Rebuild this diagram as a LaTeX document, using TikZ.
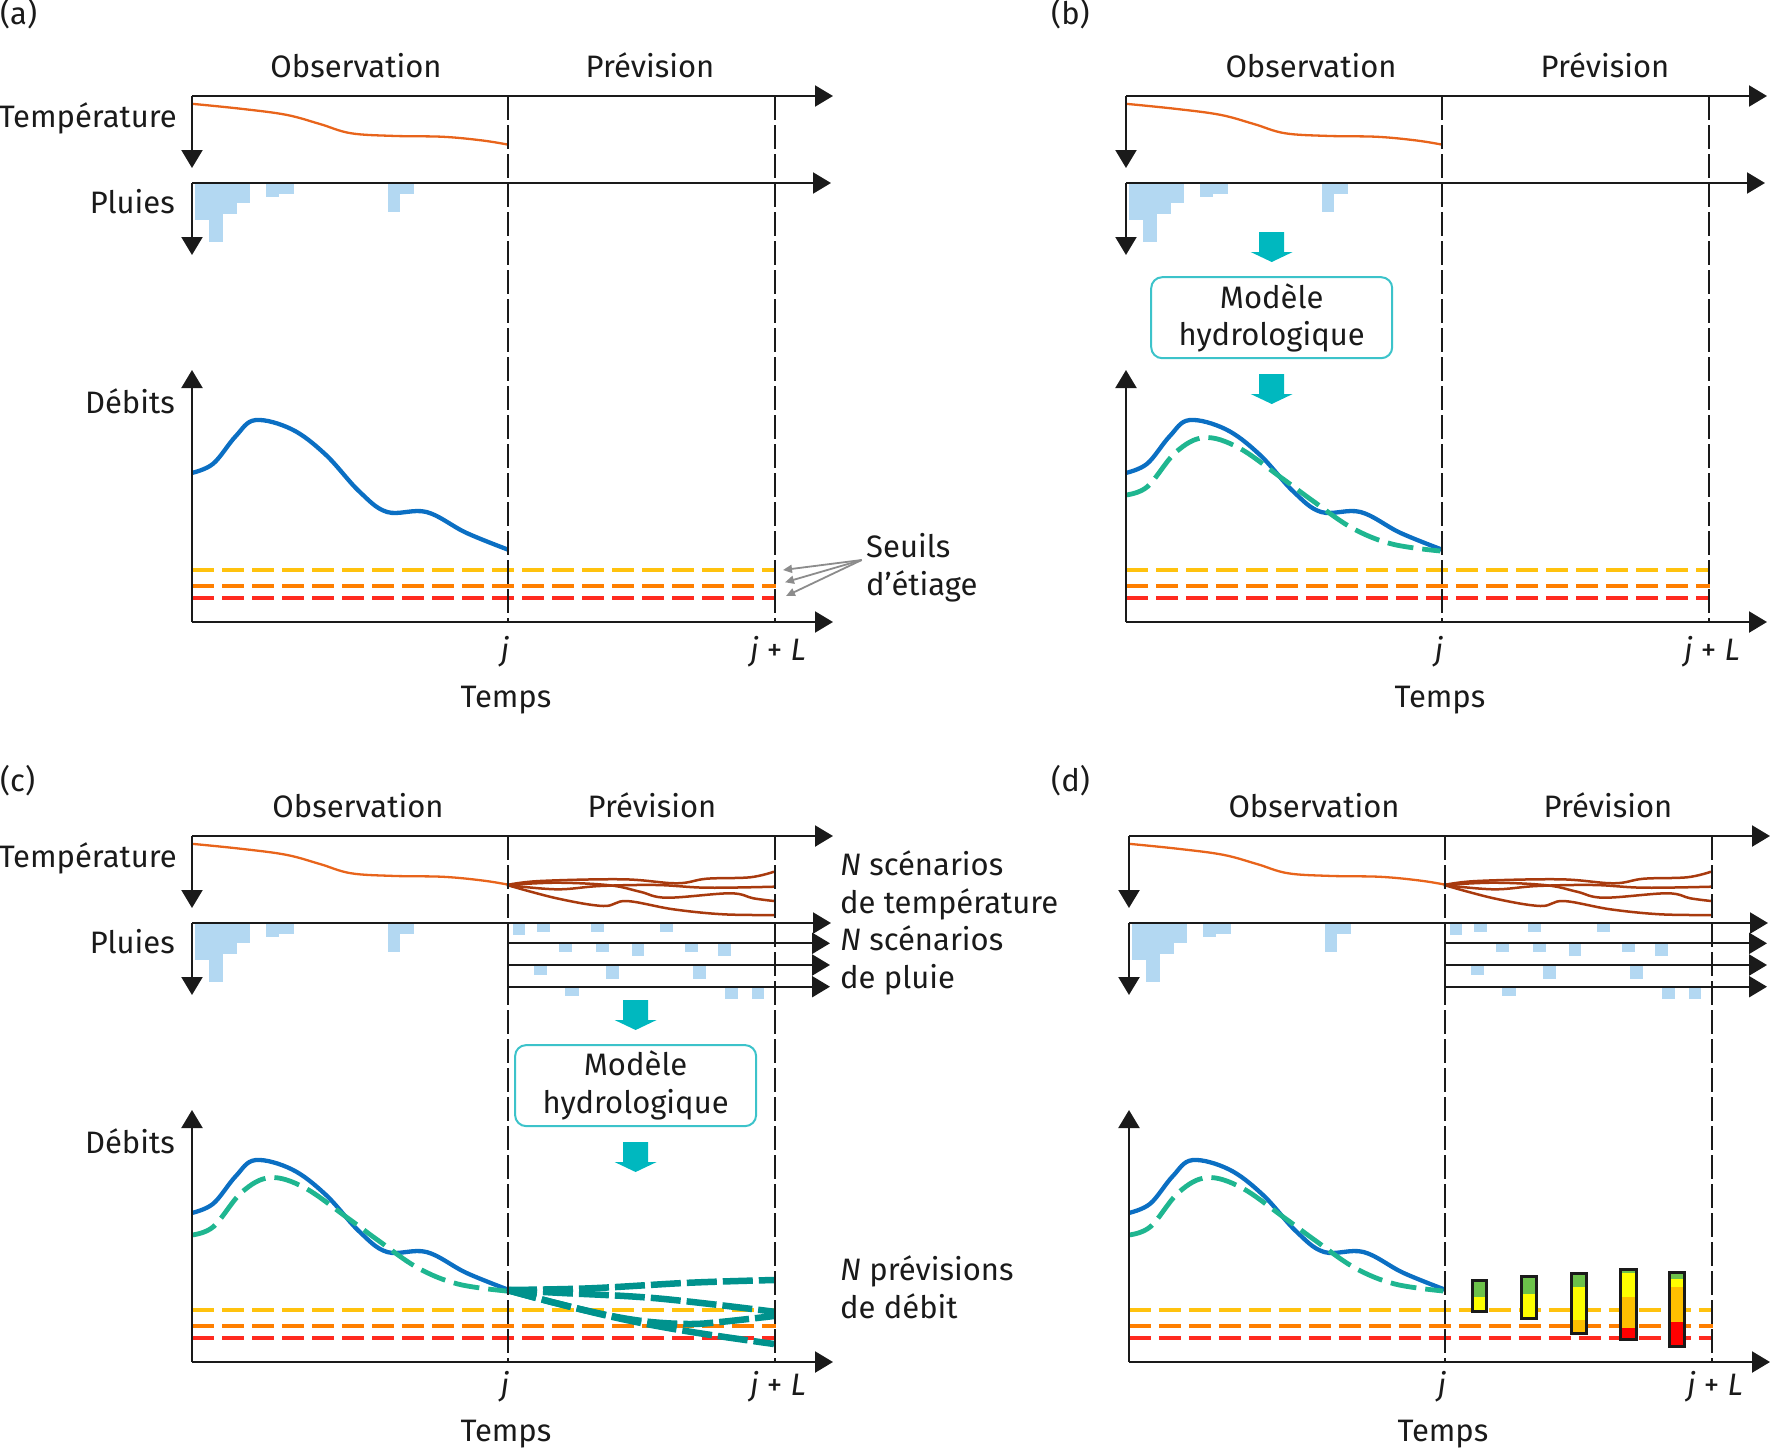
\documentclass[tikz,border=0pt]{standalone}
\usepackage{fontspec}
\setmainfont{Fira Sans}
\usetikzlibrary{arrows.meta,calc}
\definecolor{tempc}{HTML}{E8641B}
\definecolor{scenc}{HTML}{A83A0E}
\definecolor{rainc}{HTML}{B3D8F2}
\definecolor{bluec}{HTML}{0B6FC3}
\definecolor{greenc}{HTML}{1FB690}
\definecolor{tealc}{HTML}{00928D}
\definecolor{thrY}{HTML}{FFC20E}
\definecolor{thrO}{HTML}{FF7F00}
\definecolor{thrR}{HTML}{FF2A1F}
\definecolor{cyanA}{HTML}{00B8BF}
\definecolor{boxc}{HTML}{3CC3CA}
\definecolor{grayA}{HTML}{8C8C8C}
\definecolor{barG}{HTML}{6CC24A}
\definecolor{barY}{HTML}{FFFF00}
\definecolor{barA}{HTML}{FFC000}
\definecolor{barR}{HTML}{FF0000}
\definecolor{inkc}{HTML}{1A1A1A}
\tikzset{
  lbl/.style={font=\fontsize{31}{38}\selectfont, inner sep=0pt, text=inkc},
  axisarr/.style={line width=2.2pt, draw=inkc, -{Triangle[length=18pt,width=21pt]}},
  axisplain/.style={line width=2.2pt, draw=inkc},
  jline/.style={line width=2pt, draw=inkc, dash pattern=on 24pt off 5pt},
  thrline/.style={line width=4.6pt, dash pattern=on 22pt off 8pt},
  tempobs/.style={draw=tempc, line width=2.3pt},
  tempscen/.style={draw=scenc, line width=2.5pt},
  obsflow/.style={draw=bluec, line width=4.3pt},
  simflow/.style={draw=greenc, line width=4.8pt, dash pattern=on 26pt off 9pt},
  fcflow/.style={draw=tealc, line width=6.5pt, dash pattern=on 30pt off 6pt},
  modelbox/.style={draw=boxc, line width=2pt, rounded corners=11pt, minimum width=241pt,
    minimum height=81pt, align=center, font=\fontsize{31}{37.5}\selectfont, text=inkc, inner sep=0pt},
  grayarr/.style={draw=grayA, line width=1.8pt, -{Triangle[length=9pt,width=8pt]}},
  barbox/.style={draw=inkc, line width=3pt},
}
% ---------- common parts (panel-local coordinates) ----------
\newcommand\pnlRain{%
  \fill[rainc] (195,183) rectangle (209.3,220);
  \fill[rainc] (209.3,183) rectangle (223.3,241.7);
  \fill[rainc] (223.3,183) rectangle (237.3,214.3);
  \fill[rainc] (237.3,183) rectangle (250,202.7);
  \fill[rainc] (266,183) rectangle (279,196.7);
  \fill[rainc] (279,183) rectangle (294,194);
  \fill[rainc] (387.7,183) rectangle (400,211.7);
  \fill[rainc] (400,183) rectangle (414.3,194);
}
\newcommand\pnlThr{%
  \draw[thrline, draw=thrY] (192,570) -- (776,570);
  \draw[thrline, draw=thrO] (192,586) -- (776,586);
  \draw[thrline, draw=thrR] (192,598) -- (776,598);
}
\newcommand\pnlTemp{%
  \draw[tempobs] plot[smooth, tension=0.6] coordinates {(192,103.8) (241.3,108.8) (286.2,114.8) (319.9,124) (350.7,133.2) (392.8,135.9) (443.3,136.8) (482.6,140.5) (507.9,144.6)};
}
\newcommand\pnlBlue{%
  \draw[obsflow] plot[smooth, tension=0.6] coordinates {(192,472.9) (213.2,463.7) (235.7,436.2) (255.3,420.1) (291.8,429.3) (325.5,454.5) (359.1,491.3) (387.2,512) (426.5,512) (465.8,532.6) (507.9,549.6)};
}
\newcommand\pnlGreen{%
  \draw[simflow] plot[smooth, tension=0.6] coordinates {(191.7,495) (213.4,486.7) (241.8,452.2) (270.2,437.6) (304.4,447.6) (347,477.5) (378.3,500.5) (418.1,528) (457.9,544) (506.3,551)};
}
\newcommand\pnlScen{%
  \draw[tempscen] plot[smooth, tension=0.6] coordinates {(507,145) (540,141) (623.3,139.3) (676.7,143.3) (706.7,138.7) (750,137.3) (774,131.7)};
  \draw[tempscen] plot[smooth, tension=0.6] coordinates {(507,145) (556.7,149.3) (600,146) (656.7,145) (706.7,147.7) (774,146.7)};
  \draw[tempscen] plot[smooth, tension=0.6] coordinates {(507,145) (556.7,142.7) (610,145.3) (640,151.7) (666.7,157.7) (730,153.3) (753.3,158.3) (774,161)};
  \draw[tempscen] plot[smooth, tension=0.6] coordinates {(507,145) (556.7,158.3) (603.3,166) (626.7,161) (673.3,169.3) (723.3,174.3) (774,175)};
}
\newcommand\pnlRainFc{%
  \fill[rainc] (512.7,184) rectangle (525,195);
  \fill[rainc] (537.3,184) rectangle (550.3,191.7);
  \fill[rainc] (591,184) rectangle (604.3,191.7);
  \fill[rainc] (660,184) rectangle (673.3,191.7);
  \fill[rainc] (559,204) rectangle (572.3,212.3);
  \fill[rainc] (596,204) rectangle (609.3,212.3);
  \fill[rainc] (631.7,204) rectangle (644,216);
  \fill[rainc] (685,204) rectangle (698.3,212.3);
  \fill[rainc] (717.7,204) rectangle (730.7,216);
  \fill[rainc] (533.7,226) rectangle (547.3,235.3);
  \fill[rainc] (606,226) rectangle (618.7,239);
  \fill[rainc] (692.7,226) rectangle (705.7,239);
  \fill[rainc] (565,247.5) rectangle (579,256);
  \fill[rainc] (725,247.5) rectangle (738,259.4);
  \fill[rainc] (752,247.5) rectangle (764,259.4);
  \coordinate (r2) at (508,203.3);
  \coordinate (r2e) at (830,203.3);
  \coordinate (r3) at (508,225);
  \coordinate (r3e) at (830,225);
  \coordinate (r4) at (508,246.7);
  \coordinate (r4e) at (830,246.7);
  \draw[axisarr] (r2) -- (r2e);
  \draw[axisarr] (r3) -- (r3e);
  \draw[axisarr] (r4) -- (r4e);
  \draw[axisplain] (r2) -- (r4);
}
% #1 obs x, #2 prev x, #3 j-label baseline, #4 Temps baseline
\newcommand\pnlAxes[4]{%
  \coordinate (tO) at (192,96);
  \coordinate (tE) at (833,96);
  \coordinate (tS) at (192,168);
  \coordinate (pO) at (192,183);
  \coordinate (pE) at (831,183);
  \coordinate (pS) at (192,255);
  \coordinate (qO) at (192,622);
  \coordinate (qE) at (833,622);
  \coordinate (qN) at (192,370);
  \coordinate (jT) at (508,96);
  \coordinate (jB) at (508,622);
  \coordinate (LT) at (775,96);
  \coordinate (LB) at (775,622);
  \draw[jline] (jT) -- (jB);
  \draw[jline] (LT) -- (LB);
  \draw[axisarr] (tO) -- (tE);
  \draw[axisarr] (tO) -- (tS);
  \draw[axisarr] (pO) -- (pE);
  \draw[axisarr] (pO) -- (pS);
  \draw[axisarr] (qO) -- (qE);
  \draw[axisarr] (qO) -- (qN);
  \node[lbl, anchor=base] (obs) at (#1,77) {Observation};
  \node[lbl, anchor=base] (prev) at (#2,77) {Prévision};
  \node[lbl, anchor=base] (jlab) at (505,#3) {\textit{j}};
  \node[lbl, anchor=base] (jLlab) at (778,#3) {\textit{j} + \textit{L}};
  \node[lbl, anchor=base] (temps) at (506,#4) {Temps};
}
\newcommand\pnlSideLabels{%
  \node[lbl, anchor=base east] (tlab) at (177,127) {Température};
  \node[lbl, anchor=base east] (plab) at (175,213.5) {Pluies};
  \node[lbl, anchor=base east] (dlab) at (175,413) {Débits};
}
\newcommand\blockarrow[2]{%
  \fill[cyanA] (#1-12.5,#2) -- (#1+12.5,#2) -- (#1+12.5,#2+20) -- (#1+21,#2+20) -- (#1,#2+30)
    -- (#1-21,#2+20) -- (#1-12.5,#2+20) -- cycle;
}
\begin{document}
\begin{tikzpicture}[x=1pt,y=-1pt]
\useasboundingbox (0,0) rectangle (1772,1451);
% ================= (a) =================
\begin{scope}[name prefix=a-]
  \node[lbl, anchor=base west] (letter) at (0,24) {(a)};
  \pnlRain
  \pnlThr
  \pnlTemp
  \pnlBlue
  \pnlAxes{356}{650}{660}{707}
  \pnlSideLabels
  \node[lbl, anchor=base west, align=left] (seuils) at (866,595) {Seuils\\d’étiage};
  \coordinate (sg) at (861.7,560);
  \coordinate (thY) at (783,570);
  \coordinate (thO) at (785,582.3);
  \coordinate (thR) at (786,596);
  \draw[grayarr] (sg) -- (thY);
  \draw[grayarr] (sg) -- (thO);
  \draw[grayarr] (sg) -- (thR);
\end{scope}
% ================= (b) =================
\begin{scope}[shift={(934,0)}, name prefix=b-]
  \node[lbl, anchor=base west] (letter) at (117,24) {(b)};
  \pnlRain
  \pnlThr
  \pnlTemp
  \pnlBlue
  \pnlGreen
  \pnlAxes{377}{671}{660}{707}
  \node[modelbox] (box) at (337.7,317.7) {Modèle\\hydrologique};
  \blockarrow{337.7}{232}
  \blockarrow{337.7}{374}
\end{scope}
% ================= (c) =================
\begin{scope}[shift={(0,740)}, name prefix=c-]
  \node[lbl, anchor=base west] (letter) at (0,51) {(c)};
  \pnlRain
  \pnlRainFc
  \pnlThr
  \pnlTemp
  \pnlScen
  \pnlBlue
  \pnlGreen
  \draw[fcflow] plot[smooth, tension=0.6] coordinates {(507,550) (590,548.3) (690,542.7) (774,540)};
  \draw[fcflow] plot[smooth, tension=0.6] coordinates {(507,550) (556.7,552.7) (656.7,558.3) (774,571.7)};
  \draw[fcflow] plot[smooth, tension=0.6] coordinates {(507,550) (556.7,563.3) (606.7,575) (648,581.7) (690,584) (723,581.7) (774,576)};
  \draw[fcflow] plot[smooth, tension=0.6] coordinates {(507,550) (556.7,563.3) (623.3,579.3) (690,591.7) (774,604)};
  \pnlAxes{358}{652}{655}{701}
  \pnlSideLabels
  \node[modelbox] (box) at (635.6,345.6) {Modèle\\hydrologique};
  \blockarrow{635.6}{260}
  \blockarrow{635.6}{402}
  \node[lbl, anchor=base west, align=left] (nt) at (840,173.7) {\textit{N} scénarios\\de température};
  \node[lbl, anchor=base west, align=left] (np) at (840,248.5) {\textit{N} scénarios\\de pluie};
  \node[lbl, anchor=base west, align=left] (nq) at (840,578.2) {\textit{N} prévisions\\de débit};
\end{scope}
% ================= (d) =================
\begin{scope}[shift={(937,740)}, name prefix=d-]
  \node[lbl, anchor=base west] (letter) at (114,51) {(d)};
  \pnlRain
  \pnlRainFc
  \pnlThr
  \pnlTemp
  \pnlScen
  \pnlBlue
  \pnlGreen
  \pnlAxes{377}{671}{655}{701}
\end{scope}
% bars of panel (d), absolute coordinates
\fill[barG] (1472.3,1280) rectangle (1486.7,1297.3);
\fill[barY] (1472.3,1297.3) rectangle (1486.7,1311);
\draw[barbox] (1472.3,1280) rectangle (1486.7,1311);
\fill[barG] (1521.7,1276) rectangle (1536.7,1294);
\fill[barY] (1521.7,1294) rectangle (1536.7,1318.7);
\draw[barbox] (1521.7,1276) rectangle (1536.7,1318.7);
\fill[barG] (1571.3,1273.3) rectangle (1586.3,1286.7);
\fill[barY] (1571.3,1286.7) rectangle (1586.3,1320);
\fill[barA] (1571.3,1320) rectangle (1586.3,1333.3);
\draw[barbox] (1571.3,1273.3) rectangle (1586.3,1333.3);
\fill[barG] (1620.7,1269) rectangle (1636,1273.3);
\fill[barY] (1620.7,1273.3) rectangle (1636,1297.3);
\fill[barA] (1620.7,1297.3) rectangle (1636,1328.3);
\fill[barR] (1620.7,1328.3) rectangle (1636,1339);
\draw[barbox] (1620.7,1269) rectangle (1636,1339);
\fill[barG] (1669.3,1272.7) rectangle (1684,1279);
\fill[barY] (1669.3,1279) rectangle (1684,1286.7);
\fill[barA] (1669.3,1286.7) rectangle (1684,1321.7);
\fill[barR] (1669.3,1321.7) rectangle (1684,1346.7);
\draw[barbox] (1669.3,1272.7) rectangle (1684,1346.7);
\end{tikzpicture}
\end{document}
